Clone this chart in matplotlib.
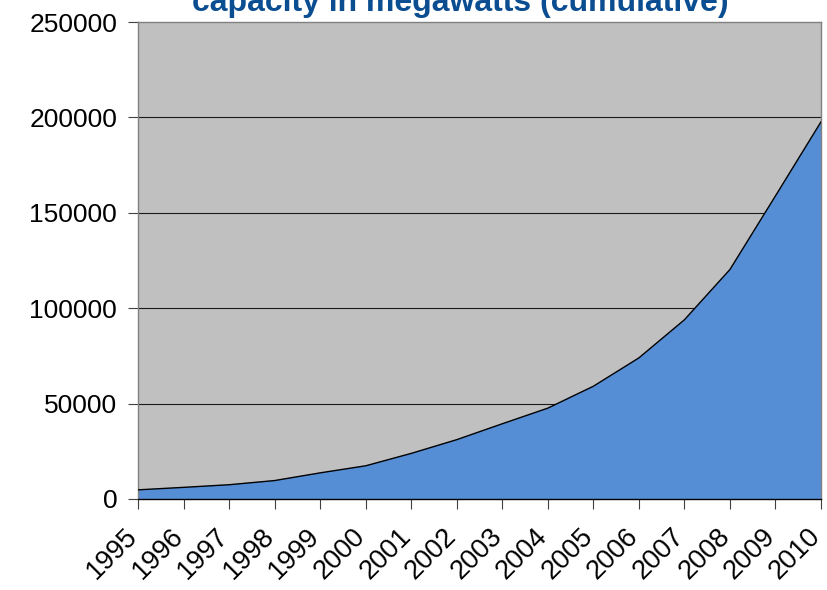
import numpy as np
import matplotlib
matplotlib.use('Agg')
import matplotlib.pyplot as plt
import matplotlib.transforms as mtransforms

# global installed wind capacity, MW (cumulative)
years = [1995, 1996, 1997, 1998, 1999, 2000, 2001, 2002,
         2003, 2004, 2005, 2006, 2007, 2008, 2009, 2010]
capacity = [4800, 6100, 7480, 9667, 13700, 17400, 23900, 31100,
            39431, 47620, 59091, 73957, 93924, 120291, 158864, 197686]
yticks = [0, 50000, 100000, 150000, 200000, 250000]

plt.rcParams['font.family'] = ['Liberation Sans', 'DejaVu Sans']

fig = plt.figure(figsize=(8.28, 5.90), dpi=100)
ax = fig.add_axes([138/828, 1 - 499/590, (821-138)/828, (499-22)/590])
ax.set_facecolor('#c0c0c0')

x = np.arange(len(years))
ax.fill_between(x, capacity, 0, color='#558ed5', zorder=2)
ax.plot(x, capacity, color='black', lw=1.0, zorder=3)

ax.set_xlim(0, len(years) - 1)
ax.set_ylim(0, 250000)
ax.set_yticks(yticks)
ax.set_yticklabels([str(v) for v in yticks])
ax.set_xticks(x)
ax.set_xticklabels([str(y) for y in years], rotation=45, ha='right',
                   va='center', rotation_mode='anchor')

for v in yticks[1:-1]:
    ax.axhline(v, color='#1a1a1a', lw=0.8, zorder=1)

ax.tick_params(axis='y', length=7, width=0.8, pad=8, labelsize=19,
               color='#404040')
ax.tick_params(axis='x', length=7, width=0.8, pad=13, labelsize=19.5,
               color='#404040')
for s in ax.spines.values():
    s.set_color('#808080')
    s.set_linewidth(1.0)
ax.spines['bottom'].set_color('black')

# nudge the slanted year labels down and slightly left
shift = mtransforms.ScaledTranslation(-3/72, -4/72, fig.dpi_scale_trans)
for lab in ax.get_xticklabels():
    lab.set_transform(lab.get_transform() + shift)

fig.text(460/828, 1 - 11/590, 'capacity in megawatts (cumulative)',
         ha='center', va='baseline', fontsize=23, fontweight='bold',
         color='#0b4d91')

fig.savefig('out.png', dpi=100)
